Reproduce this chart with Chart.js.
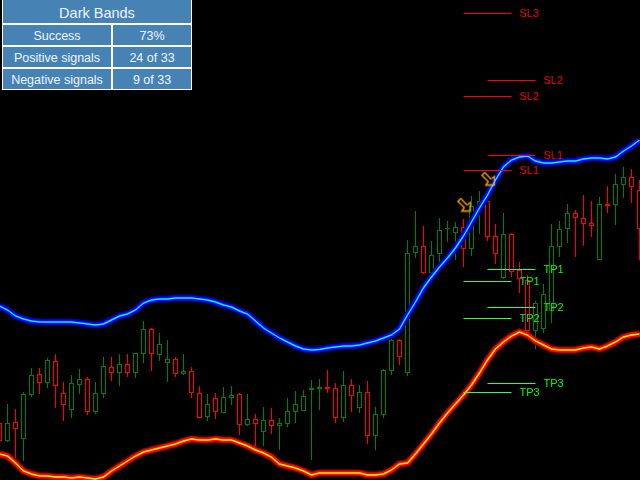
<!DOCTYPE html>
<html>
<head>
<meta charset="utf-8">
<title>Dark Bands</title>
<script src="https://cdn.jsdelivr.net/npm/chart.js@4"></script>
<style>
html, body { margin: 0; padding: 0; background: #000; }
#wrap { position: relative; width: 640px; height: 480px; overflow: hidden; }
canvas { display: block; }
#stats {
    position: absolute; left: 2px; top: 0; width: 190px; height: 90px; background: #fff;
    display: grid; box-sizing: border-box; padding: 0 1px 1px 1px;
    grid-template-columns: 108px 78px; column-gap: 2px; row-gap: 2px;
    grid-template-rows: 23px 20px 20px 20px;
    font-family: "Liberation Sans", sans-serif; font-size: 12.5px; color: #eef6ff;
}
#stats div { background: #4682b4; display: flex; align-items: center; justify-content: center; padding-top: 2px; box-sizing: border-box; }
#stats .title { grid-column: 1 / 3; font-size: 14.5px; }
</style>
</head>
<body>
<div id="wrap">
    <canvas id="chart" width="640" height="480"></canvas>
    <div id="stats">
        <div class="title">Dark Bands</div>
        <div>Success</div><div>73%</div>
        <div>Positive signals</div><div>24 of 33</div>
        <div>Negative signals</div><div>9 of 33</div>
    </div>
</div>
<script>
"use strict";

// one entry per bar, price levels
const openPrices = [57, 39, 58, 41, 85, 106, 97, 119, 87, 70, 95, 101, 68, 86, 113, 107, 116, 107, 126, 151, 125,
    117, 121, 106, 109, 87, 63, 82, 67, 82, 86, 55, 61, 48, 60, 54, 56, 68, 69, 90, 91, 93, 92, 62, 95, 72, 88, 44,
    65, 109, 140, 107, 227, 234, 207, 226, 251, 247, 253, 231, 274, 279, 244, 202, 246, 210, 200, 149, 151, 169,
    233, 251, 267, 262, 257, 220, 276, 275, 295, 303, 290];
const closePrices = [39, 57, 51, 86, 105, 97, 120, 94, 75, 97, 101, 68, 87, 114, 107, 116, 107, 127, 151, 126, 136,
    121, 106, 109, 87, 62, 76, 68, 83, 85, 55, 61, 56, 60, 54, 57, 69, 76, 84, 92, 93, 91, 62, 95, 84, 88, 44, 66,
    110, 140, 123, 227, 234, 207, 225, 250, 252, 253, 231, 274, 279, 243, 226, 246, 208, 201, 149, 177, 186, 234,
    251, 267, 262, 256, 254, 276, 274, 296, 303, 293, 251];
const highPrices = [60, 76, 71, 88, 112, 112, 122, 126, 98, 105, 111, 103, 98, 123, 123, 126, 126, 127, 159, 152, 147,
    140, 123, 126, 113, 94, 86, 87, 93, 94, 87, 86, 66, 73, 72, 62, 82, 89, 90, 100, 101, 110, 97, 109, 101, 95, 99, 73,
    111, 141, 141, 240, 269, 254, 239, 262, 259, 258, 261, 284, 289, 289, 256, 267, 247, 218, 205, 179, 196, 256,
    259, 276, 270, 285, 279, 283, 294, 306, 313, 311, 300];
const lowPrices = [35, 38, 22, 19, 83, 86, 92, 72, 59, 62, 86, 65, 66, 82, 99, 94, 103, 102, 117, 109, 119,
    98, 103, 105, 82, 62, 59, 61, 67, 75, 45, 54, 34, 34, 46, 30, 53, 57, 69, 20, 70, 87, 57, 58, 68, 67, 36, 30,
    62, 105, 115, 104, 222, 206, 206, 218, 238, 220, 213, 224, 246, 239, 216, 201, 203, 187, 145, 131, 147, 157,
    223, 237, 223, 234, 243, 220, 267, 255, 282, 277, 220];
const upperBand = [174, 170, 164, 161, 159, 158, 158, 158, 158, 158, 157, 156, 155, 156, 160, 164, 166, 170, 177, 180, 181,
    181, 182, 182, 182, 181, 180, 178, 175, 173, 169, 166, 159, 152, 147, 142, 138, 134, 131, 130, 130.5, 132, 133, 134, 134,
    135, 137, 139, 142, 145, 151, 165, 178, 192, 203, 213, 222, 232, 244, 258, 272, 285, 300, 313, 320, 323, 324, 319, 317, 317,
    318, 319, 319, 321, 322, 322, 321, 323, 329, 334, 340];
const lowerBand = [26, 24, 17, 9, 6, 4, 4, 3, 3, 2, 3, 2, 1, 3, 9, 14, 19, 24, 28, 30, 32,
    34, 36, 39, 41, 40, 40, 41, 40, 40, 37, 34, 30, 27, 23, 16, 14, 12, 9, 5, 7, 7, 7, 7, 7,
    7, 5, 5, 6, 10, 16, 17, 26, 36, 46, 57, 67, 76, 85, 95, 107, 120, 131, 138, 144, 148, 145, 139, 135, 131,
    130, 130, 130, 132, 133, 131, 134, 138, 143, 145, 146];

const levelNames = ["SL3", "SL2", "SL2", "SL1", "SL1", "TP1", "TP1", "TP2", "TP2", "TP3", "TP3"];
const levelPrices = [466.5, 399.5, 383.5, 324.5, 309.5, 210.5, 198.5, 172.5, 161.5, 96.5, 87.5];
const levelFirstBars = [58, 61, 58, 61, 58, 61, 58, 61, 58, 61, 58];
const levelLastBars = [64, 67, 64, 67, 64, 67, 64, 67, 64, 67, 64];
const levelColors = ["#ff0000", "#ff0000", "#ff0000", "#ff0000", "#ff0000", "#33ff33", "#33ff33", "#33ff33", "#33ff33", "#33ff33", "#33ff33"];

const signalBars = [58.1, 61.1];
const signalPrices = [275, 301];

function makeArrow() {
    const c = document.createElement("canvas");
    c.width = 15;
    c.height = 15;
    const ctx = c.getContext("2d");
    ctx.strokeStyle = "#ffa500";
    ctx.lineWidth = 1.3;
    ctx.beginPath();
    [[4, 1], [10, 7.5], [13.5, 5], [13.5, 13.5], [5, 13.5], [7.5, 10], [1, 4]].forEach(function (p, i) {
        if (i === 0) {
            ctx.moveTo(p[0], p[1]);
        } else {
            ctx.lineTo(p[0], p[1]);
        }
    });
    ctx.closePath();
    ctx.stroke();
    return c;
}

const candleColors = openPrices.map((o, i) => closePrices[i] > o ? "#008000" : "#ff0000");

function bandDataset(values, color, width, order) {
    return {
        type: "line",
        data: values.map((v, i) => ({ x: i, y: v })),
        borderColor: color,
        borderWidth: width,
        pointRadius: 0,
        tension: 0,
        order: order
    };
}

const datasets = [
    {
        type: "bar",
        data: lowPrices.map((v, i) => ({ x: i, y: [v, highPrices[i]] })),
        backgroundColor: candleColors,
        borderWidth: 0,
        inflateAmount: 0,
        barThickness: 1,
        grouped: false,
        order: 20
    },
    {
        type: "bar",
        data: openPrices.map((v, i) => ({ x: i, y: [v, closePrices[i]] })),
        backgroundColor: "#000000",
        borderColor: candleColors,
        borderWidth: 1,
        borderSkipped: false,
        inflateAmount: 0,
        barThickness: 5,
        grouped: false,
        order: 19
    },
    bandDataset(upperBand, "#00008b", 7, 12),
    bandDataset(upperBand, "#0000ff", 5, 11),
    bandDataset(upperBand, "#00ffff", 1.4, 10),
    bandDataset(lowerBand, "#8b0000", 7, 12),
    bandDataset(lowerBand, "#ff0000", 5, 11),
    bandDataset(lowerBand, "#ffff00", 1.4, 10)
];

levelPrices.forEach(function (price, i) {
    datasets.push({
        type: "line",
        data: [{ x: levelFirstBars[i], y: price }, { x: levelLastBars[i], y: price }],
        borderColor: levelColors[i],
        borderWidth: 1,
        pointRadius: 0,
        order: 2
    });
});

datasets.push({
    type: "scatter",
    data: signalBars.map((b, i) => ({ x: b, y: signalPrices[i] })),
    pointStyle: makeArrow(),
    pointRadius: 7,
    order: 1
});

const levelLabels = {
    id: "levelLabels",
    afterDatasetsDraw: function (chart) {
        const ctx = chart.ctx;
        ctx.save();
        ctx.font = "11px 'Liberation Sans'";
        ctx.textAlign = "left";
        ctx.textBaseline = "middle";
        levelNames.forEach(function (name, i) {
            ctx.fillStyle = levelColors[i] === "#ff0000" ? "#ff0000" : "#00ff00";
            ctx.fillText(name, chart.scales.x.getPixelForValue(levelLastBars[i] + 1), chart.scales.y.getPixelForValue(levelPrices[i]));
        });
        ctx.restore();
    }
};

new Chart(document.getElementById("chart").getContext("2d"), {
    type: "bar",
    data: { datasets: datasets },
    plugins: [levelLabels],
    options: {
        responsive: false,
        animation: false,
        devicePixelRatio: 1,
        layout: { padding: 0, autoPadding: false },
        plugins: { legend: { display: false }, tooltip: { enabled: false } },
        scales: {
            x: { type: "linear", display: false, offset: false, min: 0.0625, max: 80.0625 },
            y: { type: "linear", display: false, min: 0, max: 480 }
        }
    }
});
</script>
</body>
</html>
